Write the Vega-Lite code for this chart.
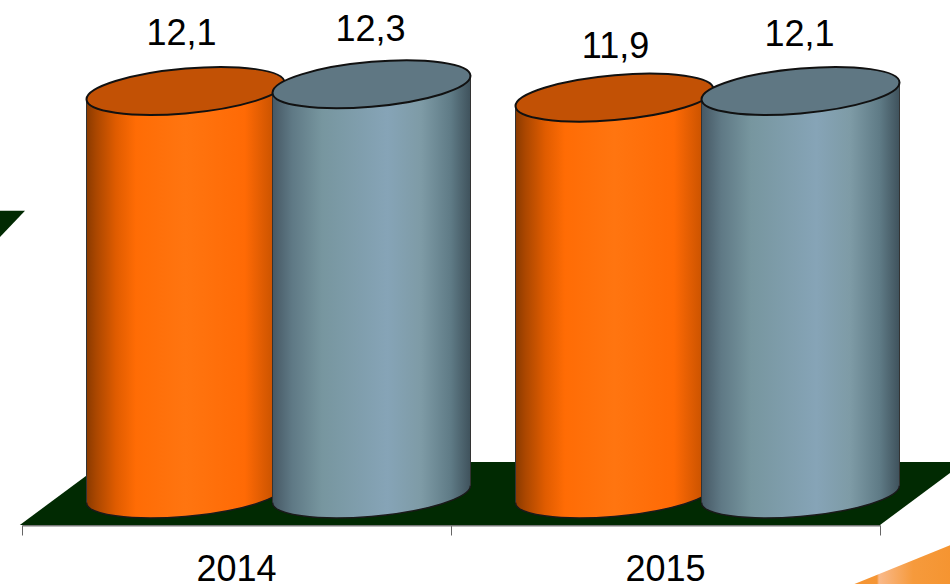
{
  "$schema": "https://vega.github.io/schema/vega-lite/v6.json",
  "width": 858,
  "height": 494,
  "padding": {"left": 22, "top": 0, "right": 70, "bottom": 90},
  "autosize": {"type": "none"},
  "background": "white",
  "config": {
    "view": {"stroke": null},
    "font": "Liberation Sans",
    "locale": {"number": {"decimal": ",", "thousands": ".", "grouping": [3], "currency": ["", " €"]}}
  },
  "datasets": {
    "measures": [
      {"year": "2014", "series": "Series 1", "value": 12.1},
      {"year": "2014", "series": "Series 2", "value": 12.3},
      {"year": "2015", "series": "Series 1", "value": 11.9},
      {"year": "2015", "series": "Series 2", "value": 12.1}
    ],
    "floor": [
      {"pos": -0.005, "back": -0.93, "front": -0.93},
      {"pos": 0.193, "back": 0.96, "front": -0.93},
      {"pos": 2.0, "back": 0.96, "front": -0.93},
      {"pos": 2.198, "back": 0.96, "front": 0.96}
    ],
    "leftWall": [
      {"pos": -0.06, "back": 8.5, "front": 7.6},
      {"pos": 0.007, "back": 8.5, "front": 8.5}
    ],
    "ribbon": [
      {"pos": 1.937, "back": -2.72, "front": -2.72},
      {"pos": 2.17, "back": -1.5, "front": -2.72}
    ]
  },
  "layer": [
    {
      "encoding": {
        "x": {
          "field": "pos",
          "type": "quantitative",
          "scale": {"domain": [0, 2], "nice": false, "zero": false},
          "axis": {
            "orient": "bottom",
            "values": [0, 1, 2],
            "labels": false,
            "title": null,
            "grid": false,
            "offset": 31,
            "tickSize": 10,
            "tickColor": "#666666",
            "tickWidth": 1,
            "domainColor": "#777777",
            "domainWidth": 2
          }
        },
        "y": {
          "field": "back",
          "type": "quantitative",
          "scale": {"domain": [0, 14.83], "nice": false, "zero": false},
          "axis": null
        },
        "y2": {"field": "front"}
      },
      "layer": [
        {"data": {"name": "leftWall"}, "mark": {"type": "area", "color": "#012a02", "clip": false}},
        {"data": {"name": "floor"}, "mark": {"type": "area", "color": "#012a02", "clip": false}},
        {
          "data": {"name": "ribbon"},
          "mark": {
            "type": "area",
            "clip": false,
            "fill": {
              "gradient": "linear", "x1": 0, "x2": 1, "y1": 0, "y2": 0,
              "stops": [
                {"offset": 0, "color": "#f59432"},
                {"offset": 0.24, "color": "#f59635"},
                {"offset": 0.26, "color": "#f9b98a"},
                {"offset": 0.6, "color": "#f69a3c"},
                {"offset": 1, "color": "#f59430"}
              ]
            }
          }
        }
      ]
    },
    {
      "data": {"name": "measures"},
      "encoding": {
        "x": {
          "field": "year",
          "type": "nominal",
          "scale": {"paddingInner": 0, "paddingOuter": 0},
          "axis": {
            "orient": "bottom",
            "title": null,
            "ticks": false,
            "domain": false,
            "grid": false,
            "labelAngle": 0,
            "offset": 31,
            "labelFontSize": 36,
            "labelColor": "#000000",
            "labelPadding": 27,
            "labelFont": "Liberation Sans"
          }
        },
        "y": {
          "field": "value",
          "type": "quantitative",
          "scale": {"domain": [0, 14.83], "nice": false, "zero": false},
          "axis": null
        }
      },
      "layer": [
        {
          "transform": [{"filter": "datum.series === 'Series 1'"}],
          "layer": [
            {
              "mark": {"type": "point", "xOffset": -51, "filled": true, "opacity": 1, "size": 39204, "strokeWidth": 0,
                "shape": "M-1 0.085 A1.0038 0.2258 -5.12 1 1 1 -0.085 A1.0038 0.2258 -5.12 1 1 -1 0.085 Z",
                "fill": {"gradient": "linear", "x1": 0, "x2": 1, "y1": 0, "y2": 0, "stops": [
                  {"offset": 0, "color": "#8a3a00"}, {"offset": 0.05, "color": "#ab4700"}, {"offset": 0.15, "color": "#e05c00"}, {"offset": 0.25, "color": "#ff6c05"},
                  {"offset": 0.5, "color": "#ff7510"}, {"offset": 0.8, "color": "#ff6a05"}, {"offset": 0.95, "color": "#c85200"}, {"offset": 1, "color": "#a24500"}]}},
              "encoding": {"y": {"datum": 0}}
            },
            {
              "mark": {"type": "point", "xOffset": -51, "filled": true, "opacity": 1, "size": 39204, "strokeWidth": 0,
                "shape": "M-1 0.085 L1 -0.085 L1 -0.2 L-1 -0.2 Z",
                "fill": {"gradient": "linear", "x1": 0, "x2": 1, "y1": 0, "y2": 0, "stops": [
                  {"offset": 0, "color": "#8a3a00"}, {"offset": 0.05, "color": "#ab4700"}, {"offset": 0.15, "color": "#e05c00"}, {"offset": 0.25, "color": "#ff6c05"},
                  {"offset": 0.5, "color": "#ff7510"}, {"offset": 0.8, "color": "#ff6a05"}, {"offset": 0.95, "color": "#c85200"}, {"offset": 1, "color": "#a24500"}]}},
              "encoding": {"y": {"datum": 0}}
            },
            {
              "mark": {"type": "bar", "xOffset": -51, "width": 198, "strokeWidth": 0, "yOffset": 8.4, "y2Offset": -8.4,
                "fill": {"gradient": "linear", "x1": 0, "x2": 1, "y1": 0, "y2": 0, "stops": [
                  {"offset": 0, "color": "#8a3a00"}, {"offset": 0.05, "color": "#ab4700"}, {"offset": 0.15, "color": "#e05c00"}, {"offset": 0.25, "color": "#ff6c05"},
                  {"offset": 0.5, "color": "#ff7510"}, {"offset": 0.8, "color": "#ff6a05"}, {"offset": 0.95, "color": "#c85200"}, {"offset": 1, "color": "#a24500"}]}},
              "encoding": {"y2": {"datum": 0}}
            },
            {
              "mark": {"type": "point", "xOffset": -51, "filled": true, "opacity": 1, "size": 39204, "strokeWidth": 0,
                "shape": "M-1 0.085 L1 -0.085 L1 0.2 L-1 0.2 Z",
                "fill": {"gradient": "linear", "x1": 0, "x2": 1, "y1": 0, "y2": 0, "stops": [
                  {"offset": 0, "color": "#8a3a00"}, {"offset": 0.05, "color": "#ab4700"}, {"offset": 0.15, "color": "#e05c00"}, {"offset": 0.25, "color": "#ff6c05"},
                  {"offset": 0.5, "color": "#ff7510"}, {"offset": 0.8, "color": "#ff6a05"}, {"offset": 0.95, "color": "#c85200"}, {"offset": 1, "color": "#a24500"}]}}
            },
            {
              "mark": {"type": "point", "xOffset": -51, "filled": false, "opacity": 1, "size": 39204, "stroke": "#1a1a1a", "strokeWidth": 1.5,
                "shape": "M-1 0.085 A1.0038 0.2258 -5.12 1 0 1 -0.085"},
              "encoding": {"y": {"datum": 0}}
            },
            {
              "mark": {"type": "rule", "xOffset": -150, "yOffset": 8.4, "y2Offset": 8.4, "stroke": "#333333", "strokeWidth": 1},
              "encoding": {"y2": {"datum": 0}}
            },
            {
              "mark": {"type": "rule", "xOffset": 48, "yOffset": -8.4, "y2Offset": -8.4, "stroke": "#333333", "strokeWidth": 1},
              "encoding": {"y2": {"datum": 0}}
            },
            {
              "mark": {"type": "point", "xOffset": -51, "filled": true, "opacity": 1, "size": 39204, "fill": "#c25105", "stroke": "#111111", "strokeWidth": 2,
                "shape": "M-1 0.085 A1.0038 0.2258 -5.12 1 1 1 -0.085 A1.0038 0.2258 -5.12 1 1 -1 0.085 Z"}
            }
          ]
        },
        {
          "transform": [{"filter": "datum.series === 'Series 2'"}],
          "layer": [
            {
              "mark": {"type": "point", "xOffset": 135, "filled": true, "opacity": 1, "size": 39204, "strokeWidth": 0,
                "shape": "M-1 0.085 A1.0038 0.2258 -5.12 1 1 1 -0.085 A1.0038 0.2258 -5.12 1 1 -1 0.085 Z",
                "fill": {"gradient": "linear", "x1": 0, "x2": 1, "y1": 0, "y2": 0, "stops": [
                  {"offset": 0, "color": "#465864"}, {"offset": 0.1, "color": "#5f7985"}, {"offset": 0.25, "color": "#77969f"},
                  {"offset": 0.58, "color": "#86a4b7"}, {"offset": 0.75, "color": "#7e9ba6"}, {"offset": 0.9, "color": "#5f7b86"}, {"offset": 1, "color": "#3f525c"}]}},
              "encoding": {"y": {"datum": 0}}
            },
            {
              "mark": {"type": "point", "xOffset": 135, "filled": true, "opacity": 1, "size": 39204, "strokeWidth": 0,
                "shape": "M-1 0.085 L1 -0.085 L1 -0.2 L-1 -0.2 Z",
                "fill": {"gradient": "linear", "x1": 0, "x2": 1, "y1": 0, "y2": 0, "stops": [
                  {"offset": 0, "color": "#465864"}, {"offset": 0.1, "color": "#5f7985"}, {"offset": 0.25, "color": "#77969f"},
                  {"offset": 0.58, "color": "#86a4b7"}, {"offset": 0.75, "color": "#7e9ba6"}, {"offset": 0.9, "color": "#5f7b86"}, {"offset": 1, "color": "#3f525c"}]}},
              "encoding": {"y": {"datum": 0}}
            },
            {
              "mark": {"type": "bar", "xOffset": 135, "width": 198, "strokeWidth": 0, "yOffset": 8.4, "y2Offset": -8.4,
                "fill": {"gradient": "linear", "x1": 0, "x2": 1, "y1": 0, "y2": 0, "stops": [
                  {"offset": 0, "color": "#465864"}, {"offset": 0.1, "color": "#5f7985"}, {"offset": 0.25, "color": "#77969f"},
                  {"offset": 0.58, "color": "#86a4b7"}, {"offset": 0.75, "color": "#7e9ba6"}, {"offset": 0.9, "color": "#5f7b86"}, {"offset": 1, "color": "#3f525c"}]}},
              "encoding": {"y2": {"datum": 0}}
            },
            {
              "mark": {"type": "point", "xOffset": 135, "filled": true, "opacity": 1, "size": 39204, "strokeWidth": 0,
                "shape": "M-1 0.085 L1 -0.085 L1 0.2 L-1 0.2 Z",
                "fill": {"gradient": "linear", "x1": 0, "x2": 1, "y1": 0, "y2": 0, "stops": [
                  {"offset": 0, "color": "#465864"}, {"offset": 0.1, "color": "#5f7985"}, {"offset": 0.25, "color": "#77969f"},
                  {"offset": 0.58, "color": "#86a4b7"}, {"offset": 0.75, "color": "#7e9ba6"}, {"offset": 0.9, "color": "#5f7b86"}, {"offset": 1, "color": "#3f525c"}]}}
            },
            {
              "mark": {"type": "point", "xOffset": 135, "filled": false, "opacity": 1, "size": 39204, "stroke": "#1a1a1a", "strokeWidth": 1.5,
                "shape": "M-1 0.085 A1.0038 0.2258 -5.12 1 0 1 -0.085"},
              "encoding": {"y": {"datum": 0}}
            },
            {
              "mark": {"type": "rule", "xOffset": 36, "yOffset": 8.4, "y2Offset": 8.4, "stroke": "#333333", "strokeWidth": 1},
              "encoding": {"y2": {"datum": 0}}
            },
            {
              "mark": {"type": "rule", "xOffset": 234, "yOffset": -8.4, "y2Offset": -8.4, "stroke": "#333333", "strokeWidth": 1},
              "encoding": {"y2": {"datum": 0}}
            },
            {
              "mark": {"type": "point", "xOffset": 135, "filled": true, "opacity": 1, "size": 39204, "fill": "#5f7783", "stroke": "#111111", "strokeWidth": 2,
                "shape": "M-1 0.085 A1.0038 0.2258 -5.12 1 1 1 -0.085 A1.0038 0.2258 -5.12 1 1 -1 0.085 Z"}
            }
          ]
        },
        {
          "transform": [{"filter": "datum.series === 'Series 1' && datum.year === '2014'"}],
          "mark": {"type": "text", "fontSize": 36, "color": "#000000", "xOffset": -55, "dy": -57},
          "encoding": {"text": {"field": "value", "type": "quantitative", "format": ".1f"}}
        },
        {
          "transform": [{"filter": "datum.series === 'Series 2' && datum.year === '2014'"}],
          "mark": {"type": "text", "fontSize": 36, "color": "#000000", "xOffset": 134, "dy": -54},
          "encoding": {"text": {"field": "value", "type": "quantitative", "format": ".1f"}}
        },
        {
          "transform": [{"filter": "datum.series === 'Series 1' && datum.year === '2015'"}],
          "mark": {"type": "text", "fontSize": 36, "color": "#000000", "xOffset": -50, "dy": -51},
          "encoding": {"text": {"field": "value", "type": "quantitative", "format": ".1f"}}
        },
        {
          "transform": [{"filter": "datum.series === 'Series 2' && datum.year === '2015'"}],
          "mark": {"type": "text", "fontSize": 36, "color": "#000000", "xOffset": 134, "dy": -56},
          "encoding": {"text": {"field": "value", "type": "quantitative", "format": ".1f"}}
        }
      ]
    }
  ],
  "resolve": {"scale": {"x": "independent"}, "axis": {"x": "independent"}}
}
